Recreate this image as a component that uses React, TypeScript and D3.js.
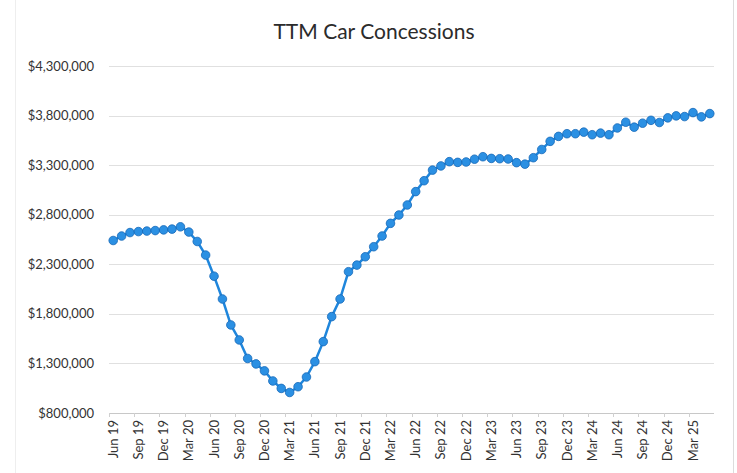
import React from "react";
import * as d3 from "d3";

const title = "TTM Car Concessions";

const startMonth = new Date(2019, 5, 1); // Jun 2019
const values: number[] = [
  2540000, 2585000, 2620000, 2630000, 2635000, 2640000, 2647000, 2655000, 2678000, 2625000,
  2530000, 2393000, 2180000, 1950000, 1688000, 1537000, 1350000, 1295000, 1225000, 1123000,
  1048000, 1007000, 1065000, 1163000, 1318000, 1520000, 1772000, 1950000, 2225000, 2292000,
  2376000, 2477000, 2585000, 2713000, 2797000, 2898000, 3033000, 3143000, 3250000, 3292000,
  3335000, 3328000, 3332000, 3360000, 3385000, 3368000, 3365000, 3362000, 3325000, 3310000,
  3375000, 3458000, 3540000, 3590000, 3617000, 3617000, 3633000, 3607000, 3623000, 3607000,
  3675000, 3733000, 3683000, 3723000, 3752000, 3730000, 3777000, 3797000, 3790000, 3830000,
  3787000, 3820000,
];
const fmtMonth = d3.timeFormat("%b %y");
const categories: string[] = values.map((_, i) => fmtMonth(d3.timeMonth.offset(startMonth, i)));
const yTicks: number[] = [800000, 1300000, 1800000, 2300000, 2800000, 3300000, 3800000, 4300000];
const tickEvery = 3;

const W = 737;
const H = 473;
const plot = { left: 109, right: 714, top: 66, bottom: 413 };

export default function App() {
  const x = d3.scaleBand<string>().domain(categories).range([plot.left, plot.right]);
  const cx = (c: string) => (x(c) as number) + x.bandwidth() / 2;
  const y = d3.scaleLinear().domain([800000, 4300000]).range([plot.bottom, plot.top]);
  const fmtY = (v: number) => "$" + d3.format(",")(v);
  const line = d3
    .line<number>()
    .x((_, i) => cx(categories[i]))
    .y((d) => y(d));

  const font = "Lato, 'Open Sans', sans-serif";

  return (
    <svg
      width={W}
      height={H}
      style={{ position: "absolute", left: 0, top: 0, background: "#fff" }}
      fontFamily={font}
    >
      <rect x={0} y={0} width={W} height={H} fill="#fff" />
      <line x1={15.5} x2={15.5} y1={0} y2={H} stroke="#eeeeee" />
      <line x1={733.5} x2={733.5} y1={0} y2={H} stroke="#dcdcdc" />
      <text x={374} y={39} textAnchor="middle" fontSize={21} fill="#2b2b2b">
        {title}
      </text>
      {yTicks.map((t) => (
        <g key={t}>
          <line
            x1={plot.left}
            x2={plot.right}
            y1={Math.round(y(t)) + 0.5}
            y2={Math.round(y(t)) + 0.5}
            stroke={t === 800000 ? "#c8c8c8" : "#e0e0e0"}
            strokeWidth={1}
          />
          <text x={94} y={y(t)} dy="0.35em" textAnchor="end" fontSize={13} fill="#333">
            {fmtY(t)}
          </text>
        </g>
      ))}
      {categories.map((c, i) =>
        i % tickEvery === 0 ? (
          <g key={c}>
            <line
              x1={Math.round(x(c) as number) + 0.5}
              x2={Math.round(x(c) as number) + 0.5}
              y1={plot.bottom}
              y2={plot.bottom + 4}
              stroke="#d0d0d0"
            />
            <text
              transform={`translate(${cx(c)},${plot.bottom + 7}) rotate(-90)`}
              textAnchor="end"
              dy="0.35em"
              fontSize={13}
              fill="#333"
            >
              {c}
            </text>
          </g>
        ) : null
      )}
      <path d={line(values) || ""} fill="none" stroke="#1f86dc" strokeWidth={2.5} strokeLinejoin="round" />
      {values.map((v, i) => (
        <circle
          key={i}
          cx={cx(categories[i])}
          cy={y(v)}
          r={4.3}
          fill="#2b90e3"
          stroke="#1668b8"
          strokeWidth={0.8}
        />
      ))}
    </svg>
  );
}
